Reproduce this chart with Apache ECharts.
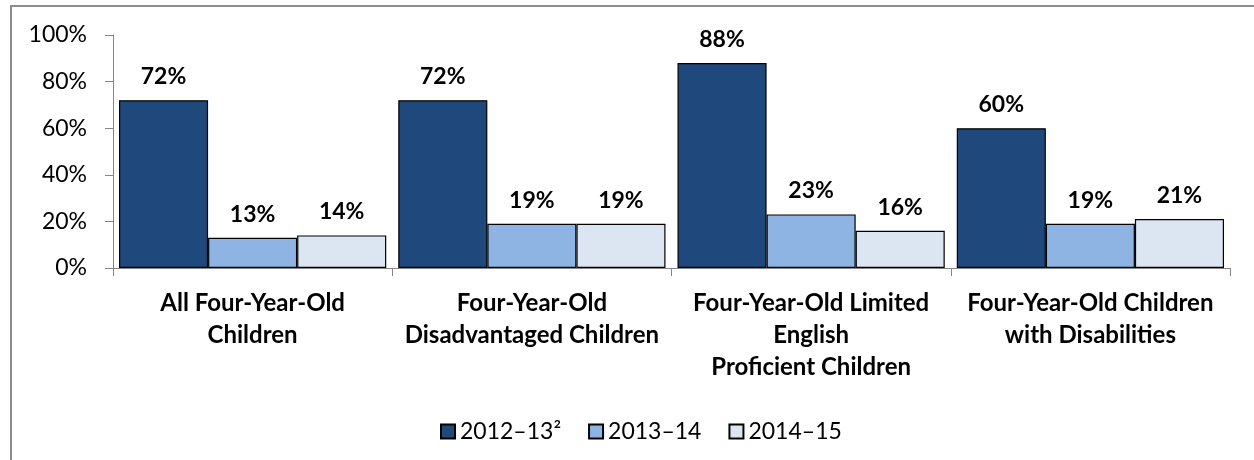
<!DOCTYPE html>
<html>
<head>
<meta charset="utf-8">
<script src="https://cdn.jsdelivr.net/npm/echarts@6/dist/echarts.min.js"></script>
<style>html,body{margin:0;padding:0;background:#fff;}#c{width:1254px;height:460px;}</style>
</head>
<body>
<div id="c"></div>
<script>
const categories = [
  "All Four-Year-Old\nChildren",
  "Four-Year-Old\nDisadvantaged Children",
  "Four-Year-Old Limited\nEnglish\nProficient Children",
  "Four-Year-Old Children\nwith Disabilities"
];
const seriesNames = ["2012\u201313\u00B2", "2013\u201314", "2014\u201315"];
const values2012 = [72, 72, 88, 60];
const values2013 = [13, 19, 23, 19];
const values2014 = [14, 19, 16, 21];
const colors = ["#1F497D", "#8DB4E2", "#DCE6F2"];
const FONT = "Lato";

const chart = echarts.init(document.getElementById('c'));
const mk = (name, data, color) => ({
  name, type: 'bar', data,
  barGap: '0%', barCategoryGap: '4.3%',
  itemStyle: { color, borderColor: '#000', borderWidth: 1.2 },
  label: { show: true, position: 'top', distance: 12, formatter: '{c}%',
    fontFamily: FONT, fontWeight: 'bold', fontSize: 23, color: '#000' }
});
chart.setOption({
  animation: false,
  backgroundColor: '#fff',
  textStyle: { fontFamily: FONT },
  graphic: [{ type: 'rect', shape: { x: 11, y: 6, width: 1400, height: 600 },
    style: { fill: 'none', stroke: '#8c8c8c', lineWidth: 2 }, silent: true }],
  grid: { left: 113, right: 24, top: 35, bottom: 192, containLabel: false },
  legend: {
    data: seriesNames, left: 435, top: 415, icon: 'rect',
    itemWidth: 14, itemHeight: 14, itemGap: 27,
    textStyle: { fontFamily: FONT, fontSize: 23, color: '#000' }
  },
  xAxis: {
    type: 'category', data: categories,
    axisLine: { lineStyle: { color: '#868686', width: 1 } },
    axisTick: { show: true, length: 8, alignWithLabel: false, lineStyle: { color: '#868686' } },
    axisLabel: { interval: 0, margin: 19, lineHeight: 32, fontFamily: FONT, fontWeight: 'bold', fontSize: 24, color: '#000' }
  },
  yAxis: {
    type: 'value', min: 0, max: 100, interval: 20,
    splitLine: { show: false },
    axisLine: { show: true, lineStyle: { color: '#868686', width: 1 } },
    axisTick: { show: true, length: 8, lineStyle: { color: '#868686' } },
    axisLabel: { formatter: '{value}%', margin: 26, fontFamily: FONT, fontSize: 23, color: '#000' }
  },
  series: [
    mk(seriesNames[0], values2012, colors[0]),
    mk(seriesNames[1], values2013, colors[1]),
    mk(seriesNames[2], values2014, colors[2])
  ]
});
</script>
</body>
</html>
